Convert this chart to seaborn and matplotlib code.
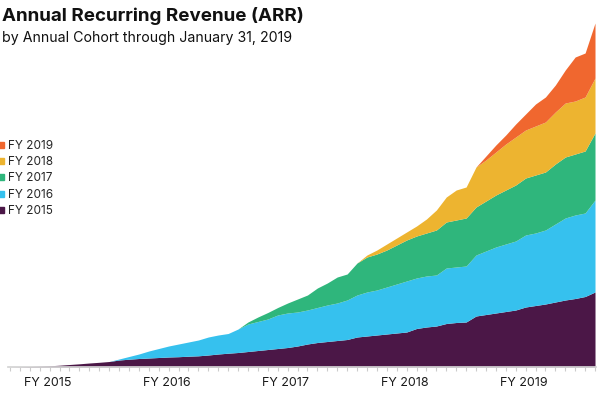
import matplotlib
matplotlib.use("Agg")
import matplotlib.pyplot as plt
import numpy as np
import seaborn as sns
from matplotlib.lines import Line2D

# monthly points, Feb 2014 .. Jan 2019 (ARR per cohort, arbitrary units)
months = np.arange(60)

fy2015 = [0, 0.2, 0.5, 0.8, 1.2, 1.8, 2.5, 3.2, 4, 4.7,
          5.5, 7, 7.8, 8.5, 9, 9.5, 10, 10.3, 10.8, 11.2,
          12, 13, 13.8, 14.5, 15.5, 16.5, 17.5, 18.5, 19.5, 21,
          23, 24.5, 25.5, 26.5, 27.5, 30, 31, 32, 33, 34,
          35, 38.5, 40, 41, 43.5, 44.5, 45, 51, 52.5, 54,
          55.5, 57, 60, 61.5, 63, 65, 67, 68.5, 70.5, 75]
fy2016 = [0, 0, 0, 0, 0, 0, 0, 0, 0, 0,
          0, 1, 2.7, 4.5, 7, 9, 11, 12.7, 14.2, 15.8,
          18, 19, 19.7, 23.5, 27.5, 29, 30.5, 33.5, 34.5, 34,
          34, 35, 36.5, 37.5, 39.5, 42, 44, 45, 47, 49,
          51, 50.5, 51, 51, 55.5, 55.5, 56, 61, 63.5, 66,
          67.5, 69, 72, 72.5, 74, 78, 82, 83.5, 83.5, 92]
fy2017 = [0, 0, 0, 0, 0, 0, 0, 0, 0, 0,
          0, 0, 0, 0, 0, 0, 0, 0, 0, 0,
          0, 0, 0, 0, 2, 4.5, 6.5, 7.5, 10, 13,
          15, 19.5, 22, 26, 26, 32, 35, 36, 37, 39,
          41, 42, 43, 45, 46, 47, 48, 48, 50, 52,
          54, 56, 57, 58, 58, 60, 61, 61, 62, 67]
fy2018 = [0, 0, 0, 0, 0, 0, 0, 0, 0, 0,
          0, 0, 0, 0, 0, 0, 0, 0, 0, 0,
          0, 0, 0, 0, 0, 0, 0, 0, 0, 0,
          0, 0, 0, 0, 0, 0, 2, 4, 6, 7,
          8, 10, 14, 20, 25, 30, 31, 40, 41, 43,
          46, 48, 48, 49, 50, 52, 54, 53, 54, 55]
fy2019 = [0, 0, 0, 0, 0, 0, 0, 0, 0, 0,
          0, 0, 0, 0, 0, 0, 0, 0, 0, 0,
          0, 0, 0, 0, 0, 0, 0, 0, 0, 0,
          0, 0, 0, 0, 0, 0, 0, 0, 0, 0,
          0, 0, 0, 0, 0, 0, 0, 0, 4, 7,
          9, 13, 16, 22, 25, 27, 33, 44, 44, 55]

cohorts = ["FY 2015", "FY 2016", "FY 2017", "FY 2018", "FY 2019"]
year_labels = ["FY 2015", "FY 2016", "FY 2017", "FY 2018", "FY 2019"]
colors = ["#4b1747", "#36c1ee", "#2fb67c", "#edb430", "#f0672f"]

sns.set_theme(style="white")
plt.rcParams["font.family"] = ["Inter", "DejaVu Sans"]

fig = plt.figure(figsize=(5.98, 3.94), dpi=100)
ax = fig.add_axes([8 / 598, 27 / 394, 588 / 598, 347 / 394])
ax.stackplot(months, fy2015, fy2016, fy2017, fy2018, fy2019,
             colors=colors, labels=cohorts, linewidth=0)
ax.set_xlim(-0.2, 59.1)
ax.set_ylim(0, 347)

sns.despine(ax=ax, left=True)
ax.spines["bottom"].set_color("#d4d4d4")
ax.set_yticks([])
ax.set_xticks(np.arange(5) * 12 + 3.8, year_labels)
ax.set_xticks(months, minor=True)
ax.tick_params(axis="x", which="both", bottom=True, direction="out",
               color="#cccccc", labelsize=9, labelcolor="#1a1a1a", pad=5)
ax.tick_params(axis="x", which="major", length=0, pad=7)
ax.tick_params(axis="x", which="minor", length=3, width=0.8)

handles = [Line2D([], [], marker="s", linestyle="", markersize=4, color=c)
           for c in colors[::-1]]
fig.legend(handles, cohorts[::-1], loc="upper left",
           bbox_to_anchor=(-0.004, 1 - 140 / 394), frameon=False,
           fontsize=8.5, handlelength=0.6, handletextpad=0.3,
           labelspacing=0.36, borderpad=0, borderaxespad=0)

fig.text(2 / 598, 1 - 7 / 394, "Annual Recurring Revenue (ARR)",
         fontsize=13.5, fontweight="bold", va="top", color="#111111")
fig.text(2 / 598, 1 - 31 / 394, "by Annual Cohort through January 31, 2019",
         fontsize=10.2, va="top", color="#111111")

fig.savefig("out.png", dpi=100)
